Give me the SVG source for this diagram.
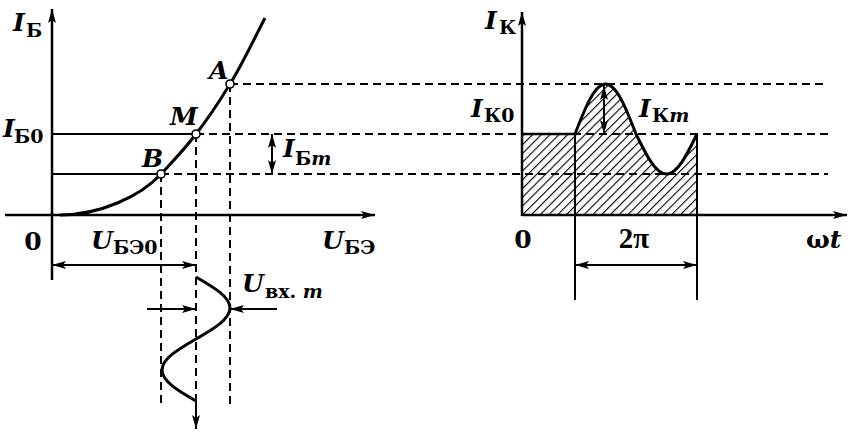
<svg xmlns="http://www.w3.org/2000/svg" width="856" height="435" viewBox="0 0 856 435">
<style>
.ax{stroke:#000;stroke-width:2.5;fill:none}
.ln{stroke:#000;stroke-width:2;fill:none}
.cv{stroke:#000;stroke-width:3;fill:none}
.ds{stroke:#000;stroke-width:2;fill:none;stroke-dasharray:8 5}
.pt{fill:#fff;stroke:#000;stroke-width:1.6}
text{font-family:"DejaVu Serif","Liberation Serif",serif;font-weight:bold;fill:#000}
.v{font-style:italic;font-size:25px}
.s{font-size:19px}
.si{font-size:19px;font-style:italic}
.n{font-size:25px}
.pi{font-family:"Liberation Serif","Times New Roman",serif;font-size:29px}
</style>
<defs>
<marker id="arr" viewBox="0 0 14 8" refX="14" refY="4" markerWidth="15" markerHeight="8" markerUnits="userSpaceOnUse" orient="auto">
<path d="M0,0 L14,4 L0,8 L3,4 Z" fill="#000"/>
</marker>
<pattern id="hatch" width="6.2" height="6.2" patternUnits="userSpaceOnUse" patternTransform="rotate(45)">
<line x1="0" y1="0" x2="0" y2="6.2" stroke="#000" stroke-width="2.2"/>
</pattern>
</defs>
<rect width="856" height="435" fill="#fff"/>

<g id="right-hatch">
<path d="M522,215 L522,134 L575,134 C585.2,107.75 594.5,84 605.5,84 C616.5,84 625.8,107.75 636,134 C646.2,155 655.5,174 666.5,174 C677.5,174 686.8,155 697,134 L697,215 Z" fill="url(#hatch)"/>
</g>

<g id="guides">
<line class="ds" x1="230" y1="84" x2="828" y2="84"/>
<line class="ds" x1="196" y1="134" x2="828" y2="134"/>
<line class="ds" x1="161" y1="174" x2="828" y2="174"/>
<line class="ln" x1="52" y1="134" x2="196" y2="134"/>
<line class="ln" x1="52" y1="174" x2="161" y2="174"/>
<line class="ds" x1="161" y1="174" x2="161" y2="408"/>
<line class="ds" x1="196" y1="134" x2="196" y2="401"/>
<line class="ds" x1="230" y1="84" x2="230" y2="408"/>
</g>

<g id="axes">
<line class="ax" x1="52" y1="280" x2="52" y2="9" marker-end="url(#arr)"/>
<line class="ax" x1="5" y1="215" x2="375" y2="215" marker-end="url(#arr)"/>
<line class="ax" x1="522" y1="216" x2="522" y2="12" marker-end="url(#arr)"/>
<line class="ax" x1="522" y1="215" x2="847" y2="215" marker-end="url(#arr)"/>
</g>

<g id="curves">
<path class="cv" d="M60,215 C100,215 141,196 161,174 C173,161 184,150 196,134 C207,120 219,102 230,84 C242,65 254,39 265,18"/>
<path class="cv" d="M196,277 C213.85,287.37 230,296.84 230,308 C230,319.16 213.85,328.63 196,339 C178.15,349.37 162,358.84 162,370 C162,381.16 178.15,390.63 196,401"/>
<path class="cv" d="M575,134 C585.2,107.75 594.5,84 605.5,84 C616.5,84 625.8,107.75 636,134 C646.2,155 655.5,174 666.5,174 C677.5,174 686.8,155 697,134"/>
<line class="ax" x1="522" y1="134" x2="575" y2="134"/>
<line class="ln" x1="575" y1="134" x2="575" y2="300"/>
<line class="ln" x1="697" y1="134" x2="697" y2="300"/>
</g>

<g id="connectors">
<line class="ln" x1="196" y1="400" x2="196" y2="429" marker-end="url(#arr)"/>
<line class="ln" x1="124" y1="265" x2="52" y2="265" marker-end="url(#arr)"/>
<line class="ln" x1="124" y1="265" x2="196" y2="265" marker-end="url(#arr)"/>
<line class="ln" x1="636" y1="265" x2="575" y2="265" marker-end="url(#arr)"/>
<line class="ln" x1="636" y1="265" x2="697" y2="265" marker-end="url(#arr)"/>
<line class="ln" x1="147" y1="309" x2="196" y2="309" marker-end="url(#arr)"/>
<line class="ln" x1="277" y1="309" x2="230" y2="309" marker-end="url(#arr)"/>
<line class="ln" x1="272" y1="154" x2="272" y2="134" marker-end="url(#arr)"/>
<line class="ln" x1="272" y1="154" x2="272" y2="174" marker-end="url(#arr)"/>
<line class="ln" x1="604" y1="110" x2="604" y2="86" marker-end="url(#arr)"/>
<line class="ln" x1="604" y1="110" x2="604" y2="134" marker-end="url(#arr)"/>
</g>

<g id="point-A"><circle class="pt" cx="230" cy="84" r="4"/><text class="v" x="209" y="79">A</text></g>
<g id="point-M"><circle class="pt" cx="196" cy="134" r="4"/><text class="v" x="170" y="125">M</text></g>
<g id="point-B"><circle class="pt" cx="161" cy="174" r="4"/><text class="v" x="142" y="167">B</text></g>

<g id="labels">
<text><tspan class="v" x="13" y="31">I</tspan><tspan class="s" x="26" y="37">Б</tspan></text>
<text><tspan class="v" x="3" y="137">I</tspan><tspan class="s" x="14" y="143">Б0</tspan></text>
<text class="n" x="33" y="250" text-anchor="middle">0</text>
<text><tspan class="v" x="91" y="249">U</tspan><tspan class="s" x="113" y="254">БЭ0</tspan></text>
<text><tspan class="v" x="322" y="249">U</tspan><tspan class="s" x="344" y="254">БЭ</tspan></text>
<text><tspan class="v" x="242" y="292">U</tspan><tspan class="s" x="265" y="298">вх. </tspan><tspan class="si">m</tspan></text>
<text><tspan class="v" x="283" y="157">I</tspan><tspan class="s" x="295" y="165">Б</tspan><tspan class="si">m</tspan></text>
<text><tspan class="v" x="485" y="29">I</tspan><tspan class="s" x="499" y="34">К</tspan></text>
<text><tspan class="v" x="471" y="117">I</tspan><tspan class="s" x="484" y="122">К0</tspan></text>
<text><tspan class="v" x="639" y="117">I</tspan><tspan class="s" x="652" y="122">К</tspan><tspan class="si">m</tspan></text>
<text class="n" x="523" y="248" text-anchor="middle">0</text>
<text class="pi" x="634" y="248" text-anchor="middle">2π</text>
<text class="n" x="806" y="248">ω<tspan font-style="italic">t</tspan></text>
</g>
</svg>
